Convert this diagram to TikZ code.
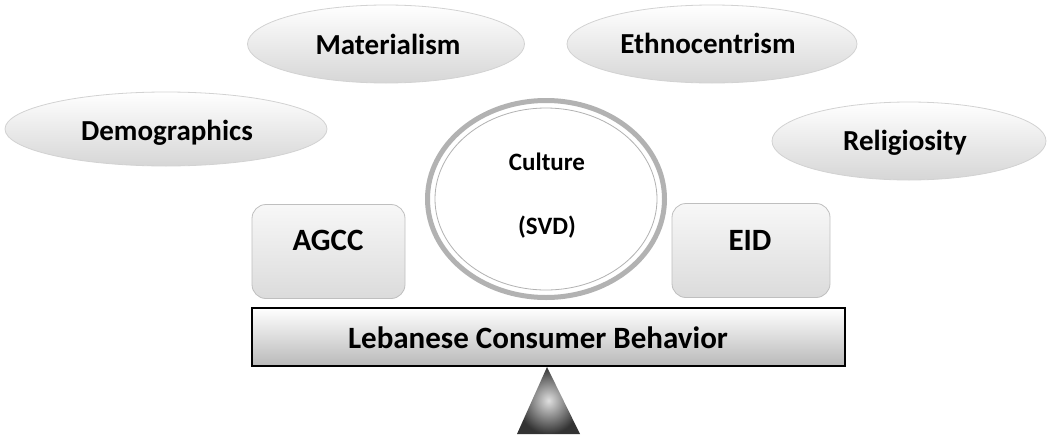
\documentclass[tikz,border=0pt]{standalone}
\usepackage{fontspec}
\setmainfont{Carlito}
\usetikzlibrary{shapes.geometric,shadings}
\begin{document}
\begin{tikzpicture}[x=1pt,y=-1pt,
  oval/.style={ellipse, draw=gray!35, line width=0.8pt, top color=white, middle color=white, bottom color=gray!32, inner sep=0pt},
  sidebox/.style={rectangle, rounded corners=14pt, draw=gray!50, line width=0.8pt, top color=gray!6, bottom color=gray!28, inner sep=0pt, minimum height=94pt},
  banner/.style={rectangle, draw=black, line width=1.1pt, top color=white, middle color=gray!20, bottom color=gray!55, inner sep=0pt, minimum width=593pt, minimum height=58pt},
  ring/.style={ellipse, draw=gray!60, line width=5pt, fill=white, inner sep=0pt},
  lbl/.style={font=\bfseries\fontsize{29}{29}\selectfont, inner sep=0pt},
  biglbl/.style={font=\bfseries\fontsize{31}{31}\selectfont, inner sep=0pt},
  smalllbl/.style={font=\bfseries\fontsize{25}{25}\selectfont, inner sep=0pt}]
\useasboundingbox (0,0) rectangle (1049,442);
% ovals
\node[oval, minimum width=277pt, minimum height=78pt] (mat) at (386,44) {};
\node[lbl] (matT) at (388,44) {Materialism};
\node[oval, minimum width=290pt, minimum height=78pt] (eth) at (712,44) {};
\node[lbl] (ethT) at (708,43) {Ethnocentrism};
\node[oval, minimum width=322pt, minimum height=74pt] (dem) at (166,129) {};
\node[lbl] (demT) at (167,133) {Demographics};
\node[oval, minimum width=274pt, minimum height=78pt] (rel) at (909,141) {};
\node[lbl] (relT) at (905,143) {Religiosity};
% culture
\node[ring, minimum width=237pt, minimum height=197pt] (cul) at (546,199) {};
\node[ellipse, draw=gray!60, line width=0.8pt, minimum width=222pt, minimum height=182pt, inner sep=0pt] (culin) at (546,199) {};
\node[smalllbl] (culT) at (547,162) {Culture};
\node[smalllbl] (svdT) at (547,227) {(SVD)};
% side boxes
\node[sidebox, minimum width=153pt] (agcc) at (328.5,251.5) {};
\node[biglbl] (agccT) at (328,240) {AGCC};
\node[sidebox, minimum width=158pt] (eid) at (751,250.5) {};
\node[biglbl] (eidT) at (750,240) {EID};
% banner
\node[banner] (ban) at (548.5,337) {};
\node[biglbl] (banT) at (538,338) {Lebanese Consumer Behavior};
% fulcrum
\shade[inner color=gray!25, outer color=black!80] (547,367) -- (580,434) -- (517,434) -- cycle;
\end{tikzpicture}
\end{document}
